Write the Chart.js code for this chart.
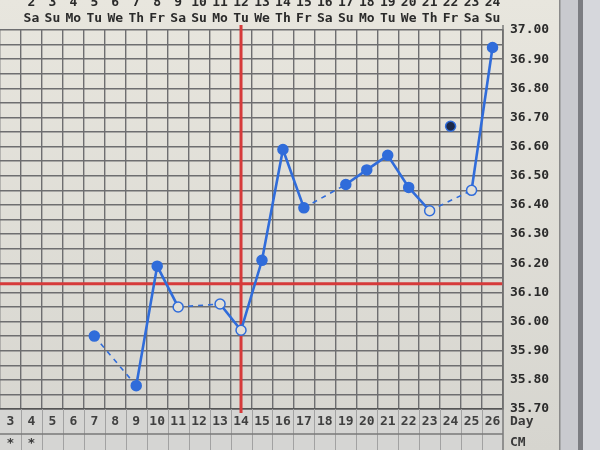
<!DOCTYPE html>
<html>
<head>
<meta charset="utf-8">
<script src="https://cdn.jsdelivr.net/npm/chart.js@4.4.1/dist/chart.umd.min.js"></script>
<style>
html, body { margin: 0; padding: 0; background: #d2d3d8; }
</style>
</head>
<body>
<canvas id="c" width="600" height="450"></canvas>
<script>
// cycle days (bottom row) and calendar dates / weekdays (top rows)
let days = ['3','4','5','6','7','8','9','10','11','12','13','14','15','16','17','18','19','20','21','22','23','24','25','26'];
let dates = ['','2','3','4','5','6','7','8','9','10','11','12','13','14','15','16','17','18','19','20','21','22','23','24'];
let weekdays = ['','Sa','Su','Mo','Tu','We','Th','Fr','Sa','Su','Mo','Tu','We','Th','Fr','Sa','Su','Mo','Tu','We','Th','Fr','Sa','Su'];

// temperatures per cycle day, null = not recorded
let temps = [null, null, null, null, 35.95, null, 35.78, 36.19, 36.05, null, 36.06, 35.97,
             36.21, 36.59, 36.39, null, 36.47, 36.52, 36.57, 36.46, 36.38, null, 36.45, 36.94];
let openDays = ['11','13','14','23','25'];
let extraDay = '24';
let extraTemp = 36.67;
let coverLine = 36.13;
let ovulationDay = '14';
let cmDays = ['3','4'];
let yMin = 35.70, yMax = 37.00;

let blue = 'rgb(48, 108, 218)';
let red = 'rgb(214, 58, 58)';
let paper = '#e2e0d8';
let monoFont = { family: 'DejaVu Sans Mono', size: 13, weight: 'bold', lineHeight: 1.2 };

function noSidePadding(s) {
    s.paddingLeft = 0;
    s.paddingRight = 0;
}

// a segment bridging a missing day is drawn dashed
function bridgesGap(ctx) {
    if (ctx.p0.skip || ctx.p1.skip) return true;
    return ctx.p1.parsed.x - ctx.p0.parsed.x > 1;
}

let decor = {
    id: 'decor',
    beforeDraw(chart) {
        let ctx = chart.ctx, a = chart.chartArea;
        ctx.save();
        let g = ctx.createLinearGradient(0, 0, 0, 450);
        g.addColorStop(0, '#e8e6de');
        g.addColorStop(1, '#d6d5cf');
        ctx.fillStyle = g;
        ctx.fillRect(0, 0, 560, 450);
        // window frame on the right
        ctx.fillStyle = '#c9cacf';
        ctx.fillRect(560, 0, 18, 450);
        ctx.fillStyle = '#7c7d82';
        ctx.fillRect(578, 0, 5, 450);
        ctx.fillStyle = '#d6d7dc';
        ctx.fillRect(583, 0, 17, 450);
        ctx.fillStyle = '#8a8a8a';
        ctx.fillRect(559, 0, 1.5, 450);
        // day and cm rows
        ctx.fillStyle = '#d5d5d3';
        ctx.fillRect(a.left, a.bottom, a.right - a.left, 450 - a.bottom);
        ctx.restore();
    },
    beforeDatasetsDraw(chart) {
        let ctx = chart.ctx, a = chart.chartArea;
        let x = chart.scales.x.getPixelForValue(days.indexOf(ovulationDay));
        let y = chart.scales.y.getPixelForValue(coverLine);
        ctx.save();
        ctx.strokeStyle = red;
        ctx.lineWidth = 3;
        ctx.beginPath();
        ctx.moveTo(a.left, y);
        ctx.lineTo(a.right, y);
        ctx.moveTo(x, a.top - 5);
        ctx.lineTo(x, a.bottom + 4);
        ctx.stroke();
        ctx.restore();
    },
    afterDraw(chart) {
        let ctx = chart.ctx, a = chart.chartArea, xs = chart.scales.x;
        let w = (a.right - a.left) / days.length;
        ctx.save();
        ctx.strokeStyle = '#a2a2a2';
        ctx.lineWidth = 1;
        ctx.beginPath();
        for (let i = 1; i < days.length; i++) {
            let x = Math.round(a.left + i * w) + 0.5;
            ctx.moveTo(x, a.bottom);
            ctx.lineTo(x, 450);
        }
        ctx.stroke();
        ctx.strokeStyle = '#7a7a7a';
        ctx.lineWidth = 1.5;
        ctx.beginPath();
        ctx.moveTo(a.left, 434);
        ctx.lineTo(a.right, 434);
        ctx.moveTo(a.right, a.top - 5);
        ctx.lineTo(a.right, 450);
        ctx.stroke();
        ctx.fillStyle = '#3a3a3a';
        ctx.font = 'bold 13px "DejaVu Sans Mono"';
        ctx.textBaseline = 'middle';
        ctx.textAlign = 'left';
        ctx.fillText('Day', 510, 422);
        ctx.fillText('CM', 510, 443);
        ctx.textAlign = 'center';
        cmDays.forEach(d => ctx.fillText('*', xs.getPixelForValue(days.indexOf(d)), 444));
        ctx.restore();
    }
};

let chart = new Chart(document.getElementById('c'), {
    type: 'line',
    data: {
        labels: days,
        datasets: [{
            data: temps,
            borderColor: blue,
            borderWidth: 2.6,
            spanGaps: true,
            tension: 0,
            pointRadius: 5,
            pointHoverRadius: 5,
            pointBorderWidth: 1.5,
            pointBorderColor: blue,
            pointBackgroundColor: days.map(d => openDays.includes(d) ? paper : blue),
            segment: {
                borderDash: ctx => bridgesGap(ctx) ? [5, 5] : undefined,
                borderWidth: ctx => bridgesGap(ctx) ? 1.6 : undefined
            }
        }, {
            data: days.map(d => d === extraDay ? extraTemp : null),
            showLine: false,
            pointRadius: 5,
            pointBorderWidth: 1.5,
            pointBorderColor: blue,
            pointBackgroundColor: '#1c2848'
        }]
    },
    options: {
        responsive: false,
        devicePixelRatio: 1,
        animation: false,
        layout: { padding: 0, autoPadding: false },
        plugins: { legend: { display: false }, tooltip: { enabled: false } },
        scales: {
            x: {
                offset: true,
                grid: { offset: true, color: '#6e6e70', lineWidth: 1.4, drawTicks: false },
                border: { color: '#555', width: 1.5 },
                ticks: { color: '#404040', font: monoFont, padding: 5, autoSkip: false, maxRotation: 0 },
                afterFit(s) { s.height = 41; noSidePadding(s); }
            },
            x2: {
                type: 'category',
                labels: days,
                position: 'top',
                offset: true,
                grid: { display: false, drawTicks: false },
                border: { display: false },
                ticks: {
                    color: '#2a2a2a', font: monoFont, padding: 4, autoSkip: false, maxRotation: 0,
                    callback: (v, i) => [dates[i], weekdays[i]]
                },
                afterFit(s) { s.height = 30; noSidePadding(s); }
            },
            y: {
                position: 'right',
                min: yMin,
                max: yMax,
                grid: { color: '#6e6e70', lineWidth: 1.4, drawTicks: false },
                border: { color: '#555', width: 1.5 },
                ticks: {
                    stepSize: 0.05,
                    color: '#2b2b2b',
                    font: monoFont,
                    padding: 7,
                    autoSkip: false,
                    callback: v => Math.round(v * 100) % 10 === 0 ? v.toFixed(2) : ''
                },
                afterFit(s) { s.width = 97; }
            }
        }
    },
    plugins: [decor]
});
</script>
</body>
</html>
